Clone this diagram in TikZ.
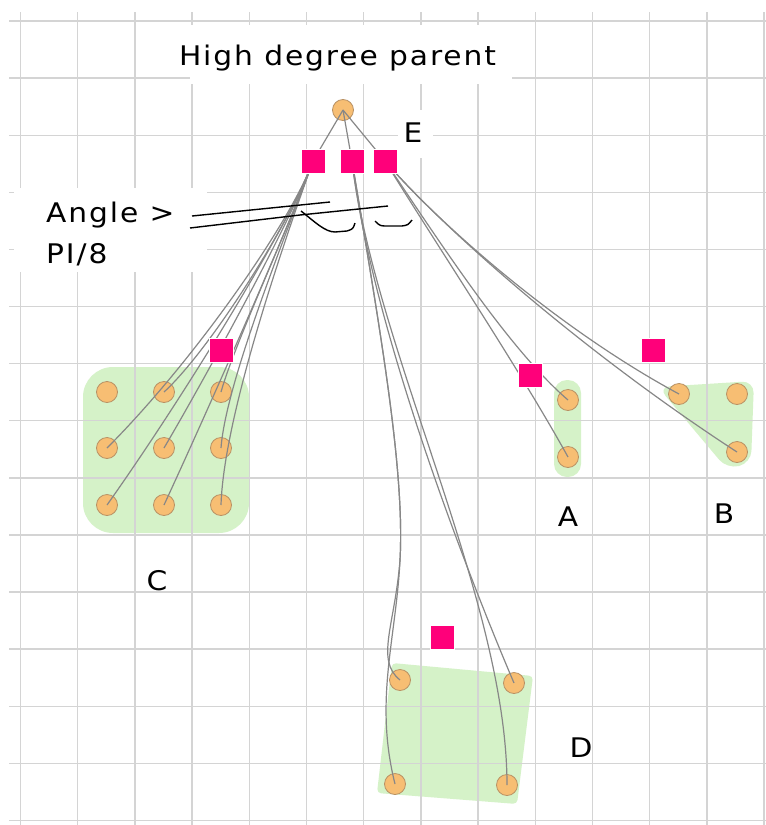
\documentclass[tikz,border=0pt]{standalone}
\usepackage{fontspec}
\setmainfont{DejaVu Sans}
\newfontfamily\lblfont[FakeStretch=1.1, LetterSpace=7]{DejaVu Sans}
\definecolor{gridc}{RGB}{212,212,212}
\definecolor{blobc}{RGB}{213,242,200}
\definecolor{nodefill}{RGB}{247,190,115}
\definecolor{nodedraw}{RGB}{185,145,100}
\definecolor{ctrlc}{RGB}{255,0,122}
\definecolor{edgec}{RGB}{135,135,135}
\begin{document}
\begin{tikzpicture}[x=1pt,y=-1pt,
  gridline/.style={draw=gridc, line width=1.4pt},
  blob/.style={fill=blobc},
  leaf/.style={circle, fill=nodefill, draw=nodedraw, line width=0.8pt, minimum size=21pt, inner sep=0pt},
  ctrl/.style={rectangle, fill=ctrlc, draw=white, line width=0.5pt, minimum size=24pt, inner sep=0pt},
  edge/.style={draw=edgec, line width=1.2pt},
  lbl/.style={font=\lblfont\fontsize{27}{32}\selectfont, inner sep=0pt},
  scribble/.style={draw=black, line width=1.4pt},
  coverbox/.style={fill=white}]
\useasboundingbox (0,0) rectangle (766,825);
\fill[white] (0,0) rectangle (766,825);
% green clusters
\fill[blob, rounded corners=30pt] (83,367) rectangle (249,533);
\fill[blob, rounded corners=13pt] (554,380) rectangle (581,477);
\fill[blob, rounded corners=12pt] (658,387) -- (754,381) -- (751,463) -- (727,469) -- cycle;
\fill[blob, rounded corners=4pt] (392,663) -- (533,676) -- (517,804) -- (377,793) -- cycle;
% grid
\foreach \i in {0,...,13} \draw[gridline] ({20.5+57.2*\i},12) -- ({20.5+57.2*\i},825);
\foreach \j in {0,...,14} \draw[gridline] (9,{21+57.1*\j}) -- (766,{21+57.1*\j});
% white boxes behind text
\fill[coverbox] (190,25) rectangle (512,84);
\fill[coverbox] (14,188) rectangle (207,272);
\fill[coverbox] (398,110) rectangle (433,158);
% nodes
\node[leaf] (E) at (343,110) {};
\node[leaf] (c11) at (107,392) {};
\node[leaf] (c12) at (164,392) {};
\node[leaf] (c13) at (221,392) {};
\node[leaf] (c21) at (107,448) {};
\node[leaf] (c22) at (164,448) {};
\node[leaf] (c23) at (221,448) {};
\node[leaf] (c31) at (107,505) {};
\node[leaf] (c32) at (164,505) {};
\node[leaf] (c33) at (221,505) {};
\node[leaf] (a1) at (568,400) {};
\node[leaf] (a2) at (568,457) {};
\node[leaf] (b1) at (679,394) {};
\node[leaf] (b2) at (737,394) {};
\node[leaf] (b3) at (737,452) {};
\node[leaf] (d1) at (400,680) {};
\node[leaf] (d2) at (514,683) {};
\node[leaf] (d3) at (395,784) {};
\node[leaf] (d4) at (507,785) {};
% control points
\coordinate (s1) at (313,161);
\coordinate (s2) at (352,161);
\coordinate (s3) at (385,161);
% edges
\draw[edge] (E.center) -- (s1);
\draw[edge] (E.center) -- (s2);
\draw[edge] (E.center) -- (s3);
\draw[edge] (s1) .. controls (292,220) and (224,410) .. (c33.center);
\draw[edge] (s1) .. controls (292,220) and (226,380) .. (c23.center);
\draw[edge] (s1) .. controls (292,220) and (234,345) .. (c13.center);
\draw[edge] (s1) .. controls (292,220) and (208,410) .. (c32.center);
\draw[edge] (s1) .. controls (292,220) and (204,380) .. (c22.center);
\draw[edge] (s1) .. controls (292,220) and (210,350) .. (c12.center);
\draw[edge] (s1) .. controls (292,220) and (185,395) .. (c31.center);
\draw[edge] (s1) .. controls (292,220) and (195,360) .. (c21.center);
\draw[edge] (s3) .. controls (445,250) and (510,350) .. (a1.center);
\draw[edge] (s3) .. controls (440,250) and (520,370) .. (a2.center);
\draw[edge] (s3) .. controls (440,225) and (560,330) .. (b1.center);
\draw[edge] (s3) .. controls (440,225) and (580,350) .. (b3.center);
\draw[edge] (s2) .. controls (380,330) and (405,470) .. (400,560) .. controls (395,625) and (375,660) .. (d1.center);
\draw[edge] (s2) .. controls (380,330) and (405,470) .. (400,560) .. controls (396,640) and (374,700) .. (d3.center);
\draw[edge] (s2) .. controls (372,330) and (470,580) .. (d2.center);
\draw[edge] (s2) .. controls (375,350) and (507,600) .. (d4.center);
% squares
\node[ctrl] (q1) at (s1) {};
\node[ctrl] (q2) at (s2) {};
\node[ctrl] (q3) at (s3) {};
\node[ctrl] (qC) at (221,350) {};
\node[ctrl] (qA) at (530,375) {};
\node[ctrl] (qB) at (653,350) {};
\node[ctrl] (qD) at (442,637) {};
% labels
\node[lbl, anchor=base] (title) at (337.5,65) {High degree parent};
\node[lbl, anchor=base west] (ang1) at (46,222) {Angle >};
\node[lbl, anchor=base west] (ang2) at (46,263) {PI/8};
\node[lbl, anchor=base] (lE) at (413,142) {E};
\node[lbl, anchor=base] (lA) at (568,526) {A};
\node[lbl, anchor=base] (lB) at (724,523) {B};
\node[lbl, anchor=base] (lC) at (157,590) {C};
\node[lbl, anchor=base] (lD) at (581,757) {D};
% hand-drawn annotation
\draw[scribble] (192,216) -- (330,202);
\draw[scribble] (190,228) -- (300,215) -- (388,206);
\draw[scribble] (301,211) .. controls (315,222) and (325,232) .. (335,232) -- (347,231) .. controls (353,229) .. (355,223);
\draw[scribble] (375,221) .. controls (380,226) .. (388,226) -- (402,226) .. controls (408,225) .. (412,220);
\end{tikzpicture}
\end{document}
